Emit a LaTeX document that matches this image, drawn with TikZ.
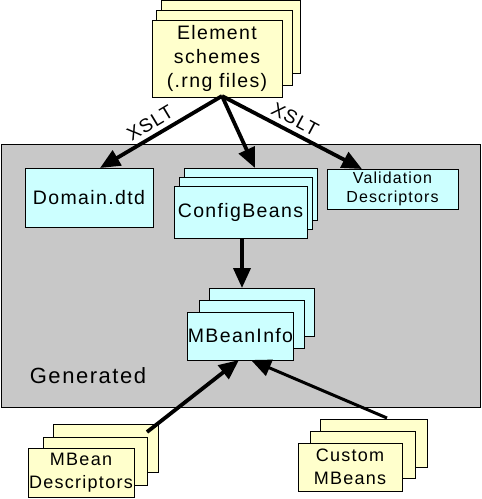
\documentclass[tikz,border=0pt]{standalone}
\usepackage{fontspec}
\setmainfont{Liberation Sans}
\newfontfamily\spaced[LetterSpace=7]{Liberation Sans}
\usetikzlibrary{arrows.meta}
\definecolor{ylw}{HTML}{FFFFCC}
\definecolor{cyn}{HTML}{CCFFFF}
\definecolor{gry}{HTML}{C8C8C8}
\tikzset{
  box/.style={draw=black, line width=0.9pt, inner sep=0pt, outer sep=0pt, align=center},
  ybox/.style={box, fill=ylw},
  cbox/.style={box, fill=cyn},
  big/.style={font=\spaced\fontsize{19.5}{24}\selectfont},
  mid/.style={font=\spaced\fontsize{18}{23}\selectfont},
  small/.style={font=\spaced\fontsize{16}{19}\selectfont},
  arr/.style={line width=3.8pt, -{Triangle[length=20pt,width=17pt]}},
  lbl/.style={font=\spaced\fontsize{19}{21}\selectfont, inner sep=0pt}
}
\newcommand{\rbox}[6]{% style, name, x1, y1, x2, y2
  \node[#1, minimum width={(#5-#3)*1pt}, minimum height={(#6-#4)*1pt}] (#2) at ({(#3+#5)/2},{(#4+#6)/2}) {};}
\begin{document}
\begin{tikzpicture}[x=1pt,y=-1pt]
\useasboundingbox (0,0) rectangle (482,499);
% generated area
\node[draw=black, line width=0.9pt, fill=gry, inner sep=0pt, minimum width=479pt, minimum height=263pt] (gen) at (240.5,275.5) {};
\node[font=\spaced\fontsize{22}{24}\selectfont, inner sep=0pt] (genl) at (88,376) {Generated};
% element schemes
\rbox{ybox}{es3}{161}{0}{300}{73}
\rbox{ybox}{es2}{156}{10}{292}{85}
\node[ybox, big, minimum width=130pt, minimum height=77pt] (es) at (217,58.5) {Element\\schemes\\(.rng files)};
% domain.dtd
\node[cbox, big, minimum width=128pt, minimum height=59pt] (dom) at (89,197.5) {Domain.dtd};
% configbeans
\rbox{cbox}{cb3}{184}{168}{317}{220}
\rbox{cbox}{cb2}{179}{177}{312}{229}
\node[cbox, big, minimum width=133pt, minimum height=52pt] (cb) at (240.5,212) {ConfigBeans};
% validation
\node[cbox, small, minimum width=131pt, minimum height=40pt] (val) at (392.5,189) {Validation\\Descriptors};
% mbeaninfo
\rbox{cbox}{mi3}{209}{288}{314}{336}
\rbox{cbox}{mi2}{199}{300}{304}{348}
\node[cbox, big, minimum width=105pt, minimum height=48pt] (mi) at (240.5,336) {MBeanInfo};
% mbean descriptors
\rbox{ybox}{md3}{53}{424}{158}{472}
\rbox{ybox}{md2}{43}{437}{147}{485}
\node[ybox, mid, minimum width=106pt, minimum height=49pt] (md) at (81,472.5) {MBean\\Descriptors};
% custom mbeans
\rbox{ybox}{cm3}{320}{419}{427}{467}
\rbox{ybox}{cm2}{310}{431}{415}{478}
\node[ybox, mid, minimum width=104pt, minimum height=48pt] (cm) at (350,467) {Custom\\MBeans};
% arrows
\coordinate (src) at (222,96);
\draw[arr] (src) -- (dom.north -| 100,0);
\draw[arr] (src) -- (cb3.north -| 255,0);
\draw[arr] (src) -- (362,169) coordinate (valtip);
\draw[arr] (cb.south -| 242,0) -- (mi3.north -| 242,0);
\coordinate (mdsrc) at (147,432);
\coordinate (cmsrc) at (387,418);
\draw[arr] (mdsrc) -- (mi.south -| 239,0);
\draw[arr, line width=3pt] (cmsrc) -- (mi.south -| 251,0);
% labels
\node[lbl, rotate=31] (x1) at (150,123) {XSLT};
\node[lbl, rotate=-28] (x2) at (295,119) {XSLT};
\end{tikzpicture}
\end{document}
